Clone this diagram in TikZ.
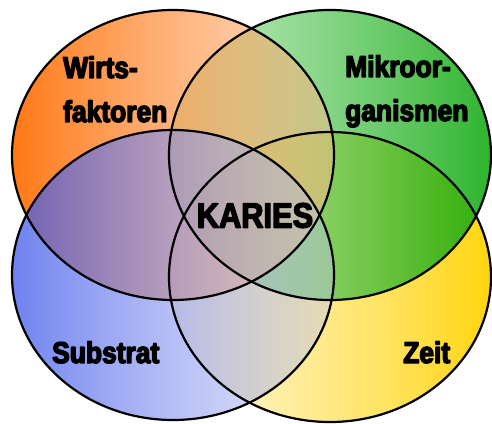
\documentclass[tikz,border=0pt]{standalone}
\usepackage{fontspec}
\usepackage{tikz}
\usetikzlibrary{positioning,fadings}
\newfontfamily\vennfont{Liberation Sans}[
    FakeStretch=0.88,
    BoldFont={Liberation Sans Bold}]

% outlined glyphs (fill + stroke) for a heavier look
\newcommand\heavy[1]{\special{pdf:literal direct 2 Tr 1.4 w 1 j}#1\special{pdf:literal direct 0 Tr}}

\definecolor{hostdark}{RGB}{255,108,0}
\definecolor{hostlight}{RGB}{255,189,141}
\definecolor{microlight}{RGB}{135,215,135}
\definecolor{microdark}{RGB}{8,167,8}
\definecolor{substdark}{RGB}{62,88,235}
\definecolor{substlight}{RGB}{195,198,242}
\definecolor{timelight}{RGB}{255,243,197}
\definecolor{timedark}{RGB}{255,211,0}

\tikzfading[name=hostfade, left color=transparent!8, right color=transparent!50]
\tikzfading[name=microfade, left color=transparent!50, right color=transparent!15]
\tikzfading[name=substfade, left color=transparent!25, right color=transparent!60]
\tikzfading[name=timefade, left color=transparent!40, right color=transparent!5]

\begin{document}
\begin{tikzpicture}[
    x=1pt, y=-1pt,
    rim/.style={
        draw=black,
        line width=2.2pt
    },
    label/.style={
        font=\vennfont\bfseries\fontsize{30}{44}\selectfont,
        inner sep=0pt,
        align=left
    }
]
\useasboundingbox (0,0) rectangle (492,423);

\coordinate (host)  at (173,155);
\coordinate (micro) at (330,155);
\coordinate (subst) at (173,275);
\coordinate (time)  at (330,277);

% fills
\shade[left color=timelight, right color=timedark, path fading=timefade]
    (time) ellipse [x radius=161, y radius=145];
\shade[left color=microlight, right color=microdark, path fading=microfade]
    (micro) ellipse [x radius=161, y radius=145];
\shade[left color=hostdark, right color=hostlight, path fading=hostfade]
    (host) ellipse [x radius=161, y radius=145];
\shade[left color=substdark, right color=substlight, path fading=substfade]
    (subst) ellipse [x radius=161, y radius=145];

% outlines
\foreach \c in {host, micro, time, subst}
    \draw[rim] (\c) ellipse [x radius=161, y radius=145];

% labels
\node[label, anchor=north west] (hostlabel) at (63,56) {\heavy{Wirts-}\\\heavy{faktoren}};
\node[label, anchor=north west] (microlabel) at (345,55) {\heavy{Mikroor-}\\\heavy{ganismen}};
\node[label, anchor=base west] (substlabel) at (52,363) {\heavy{Substrat}};
\node[label, anchor=base west] (timelabel) at (403,363) {\heavy{Zeit}};
\node[label, font=\vennfont\bfseries\fontsize{35}{40}\selectfont] (caries) at (255,215.5) {\heavy{KARIES}};

\end{tikzpicture}
\end{document}
